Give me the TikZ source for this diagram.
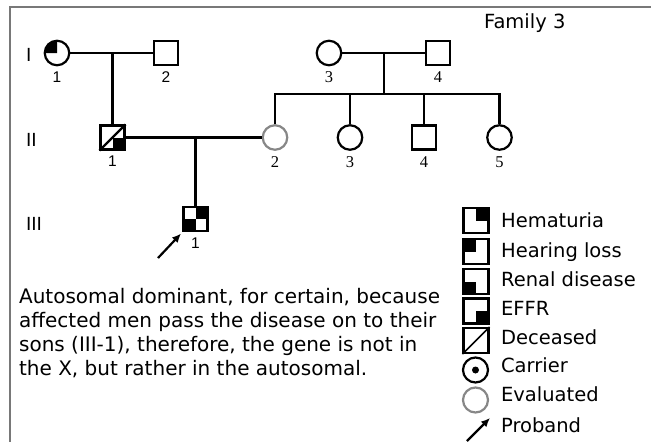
\documentclass[tikz,border=0pt]{standalone}
\usepackage{fontspec}
\setmainfont{DejaVu Sans}
\newfontfamily\labfont{Liberation Sans}
\newfontfamily\numfont{Liberation Serif}
\usetikzlibrary{arrows.meta}
\definecolor{framegray}{RGB}{120,120,120}
\definecolor{evalgray}{RGB}{135,135,135}
\newcommand{\symSize}{24pt}
\newcommand{\keySize}{25pt}
\newcommand{\keyX}{476}
\newcommand{\keyTextX}{500}
\newcommand{\circRad}{12.25pt}

\begin{document}
\begin{tikzpicture}[x=1pt, y=-1pt, line width=2.2pt,
    male/.style={draw, rectangle, minimum size=\symSize, inner sep=0pt},
    female/.style={draw, circle, minimum size=24.5pt, inner sep=0pt},
    evaluated/.style={female, draw=evalgray},
    keybox/.style={male, minimum size=\keySize},
    numsans/.style={font=\labfont\fontsize{15.5}{15.5}\selectfont, inner sep=0pt, label distance=4.5pt},
    numserif/.style={font=\numfont\fontsize{16.5}{16.5}\selectfont, inner sep=0pt, label distance=4.5pt},
    gen/.style={font=\fontsize{18}{18}\selectfont, inner sep=0pt, anchor=base west},
    keytext/.style={font=\fontsize{19.5}{19.5}\selectfont, inner sep=0pt, anchor=base west},
    note/.style={font=\fontsize{20}{24}\selectfont, inner sep=0pt, align=left, anchor=north west},
    proband/.style={-{Latex[length=9pt,width=8pt]}, line width=2.2pt}]
\useasboundingbox (0,0) rectangle (651,442);
\draw[framegray, line width=1.5pt] (651,7) -- (10,7) -- (10,442);

\node[keytext] (family) at (483,28) {Family 3};
\node[gen] (genI) at (25,61) {I};
\node[gen] (genII) at (25,146) {II};
\node[gen] (genIII) at (25,230) {III};

% generation I
\node[female, label={[numsans]below:1}] (I1) at (57,53) {};
\node[male, label={[numsans]below:2}] (I2) at (166,53) {};
\node[female, label={[numserif]below:3}] (I3) at (329,53) {};
\node[male, label={[numserif]below:4}] (I4) at (438,53) {};
% generation II
\node[male, label={[numsans]below:1}] (II1) at (112.5,137.5) {};
\node[evaluated, label={[numserif]below:2}] (II2) at (275,137.5) {};
\node[female, label={[numserif]below:3}] (II3) at (350,137.5) {};
\node[male, label={[numserif]below:4}] (II4) at (424,137.5) {};
\node[female, label={[numserif]below:5}] (II5) at (499.5,137.5) {};
% generation III
\node[male, label={[numsans]below:1}] (III1) at (195.5,219) {};

\draw (I1) -- (I2);
\draw (II1.north) -- (II1.north |- I1);
\draw (I3) -- (I4);
\coordinate (sib) at (384,94);
\draw (sib |- I3) -- (sib);
\draw (II2.north) -- (II2.north |- sib) -- (II5.north |- sib) -- (II5.north);
\draw (II3.north) -- (II3.north |- sib);
\draw (II4.north) -- (II4.north |- sib);
\draw (II1) -- (II2);
\draw (III1.north) -- (III1.north |- II1);

% affected quarters
\fill (I1.center) -- ++(-\circRad,0pt) arc[start angle=180, end angle=90, radius=\circRad] -- cycle;
\fill (II1.center) rectangle (II1.south east);
\draw (II1.south west) -- (II1.north east);
\fill (III1.north) rectangle (III1.east);
\fill (III1.west) rectangle (III1.south);

\coordinate (arrowtail) at (158,258);
\draw[proband, shorten >=2pt] (arrowtail) -- (III1.south west);

\node[note] (remark) at (18,287) {Autosomal dominant, for certain, because\\affected men pass the disease on to their\\sons (III-1), therefore, the gene is not in\\the X, but rather in the autosomal.};

% key
\node[keybox] (kHem) at (\keyX,220.5) {};
\fill (kHem.north) rectangle (kHem.east);
\node[keybox] (kHear) at (\keyX,251.5) {};
\fill (kHear.north west) rectangle (kHear.center);
\node[keybox] (kRen) at (\keyX,281.5) {};
\fill (kRen.west) rectangle (kRen.south);
\node[keybox] (kEffr) at (\keyX,311) {};
\fill (kEffr.center) rectangle (kEffr.south east);
\node[keybox] (kDec) at (\keyX,340.5) {};
\draw[line width=1.6pt] (kDec.south west) -- (kDec.north east);
\node[female, minimum size=\keySize] (kCar) at (475.5,370) {};
\fill (kCar) circle[radius=3.5pt];
\node[evaluated, minimum size=\keySize] (kEval) at (475.5,400) {};
\coordinate (kArrowA) at (467,441);
\coordinate (kArrowB) at (490,418);
\draw[proband] (kArrowA) -- (kArrowB);

\node[keytext] (tHem) at (\keyTextX,227.5) {Hematuria};
\node[keytext] (tHear) at (\keyTextX,257) {Hearing loss};
\node[keytext] (tRen) at (\keyTextX,286) {Renal disease};
\node[keytext] (tEffr) at (\keyTextX,315) {EFFR};
\node[keytext] (tDec) at (\keyTextX,344) {Deceased};
\node[keytext] (tCar) at (\keyTextX,372.5) {Carrier};
\node[keytext] (tEval) at (\keyTextX,401.5) {Evaluated};
\node[keytext] (tProb) at (\keyTextX,432) {Proband};
\end{tikzpicture}
\end{document}
